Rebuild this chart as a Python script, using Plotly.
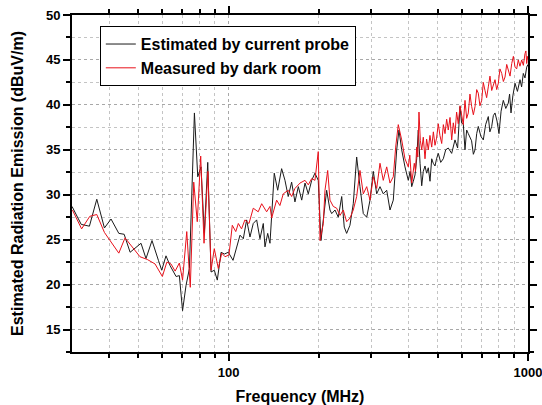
import plotly.graph_objects as go

# Estimated by current probe (black)
probe_freq = [30, 32.2, 34.3, 36.3, 38.5, 40.5, 43.0, 44.8, 46.9, 51.0, 53.0, 55.5, 58.3, 59.8, 61.8, 63.8,
              66.8, 68.5, 70.2, 72.1, 74.0, 76.9, 78.9, 80.9, 83.0, 85.2, 87.4, 89.6, 91.7, 94.4, 96.8, 99.8,
              103.5, 106.4, 109.2, 112.0, 114.9, 117.9, 120.9, 124.1, 127.3, 130.6, 132.3, 135.1, 137.5,
              142.1, 145.9, 150.4, 154.3, 158.2, 162.4, 166.6, 171.0, 175.5, 180.0, 184.6, 189.5, 194.3,
              199.3, 203.5, 208.7, 212.6, 218.1, 221.0, 226.7, 232.5, 238.7, 243.4, 247.9, 254.3, 260.9,
              267.8, 274.7, 281.8, 289.3, 296.7, 304.3, 312.4, 320.4, 328.6, 337.4, 346.0, 354.9, 364.3,
              370.8, 378.6, 388.3, 398.3, 404, 408.9, 414, 419.4, 425, 430.1, 436, 441.6, 447, 452.9,
              458.5, 464.5, 470.7, 476.9, 482.7, 489.1, 495, 501.7, 511, 521.3, 531, 541.7, 556, 570.4,
              582, 592.8, 600, 608.0, 616.0, 624, 631.8, 648, 657, 665.3, 674, 682.3, 696, 709.1, 722,
              736.9, 746, 756.5, 766, 775.9, 788, 800.0, 813, 827.0, 843, 859.5, 868, 877.5, 890, 905.0,
              922, 940.3, 952, 964.5, 977, 990.1, 1000]
probe_val = [28.7, 26.7, 26.5, 29.5, 26.3, 27.3, 25.7, 25.6, 23.6, 24.6, 22.9, 24.9, 22.7, 21.6, 23.2, 22.1,
             20.9, 21.0, 17.1, 19.9, 21.8, 39.1, 32.0, 33.1, 25.7, 33.6, 21.4, 21.6, 20.5, 23.6, 23.4, 23.6,
             22.7, 24.2, 25.5, 25.1, 27.2, 25.3, 26.8, 27.2, 25.1, 26.8, 24.2, 25.7, 24.6,
             32.4, 30.5, 32.9, 31.6, 29.8, 31.4, 29.2, 30.9, 29.4, 31.3, 30.1, 31.6, 32.4,
             31.6, 24.9, 28.3, 30.5, 28.3, 27.9, 28.3, 27.5, 29.8, 26.4, 25.7, 26.6, 29.0,
             34.2, 30.9, 27.9, 27.5, 29.4, 32.6, 30.1, 30.9, 30.1, 30.5, 28.3, 29.4, 35.0,
             37.2, 35.0, 33.1, 31.6, 32.6, 30.9, 31.5, 32.2, 34.0, 37.2, 33.5, 31.0, 32.6, 33.2,
             32.4, 33.0, 31.5, 34.0, 33.5, 33.2, 34.0, 34.6, 33.6, 34.0, 35.0, 35.2, 34.6, 36.1,
             35.2, 39.8, 38.0, 37.9, 35.0, 37.2, 36.8, 36.0, 34.5, 35.0, 36.8, 37.6, 36.5, 36.1, 37.8,
             38.7, 37.0, 37.6, 38.8, 39.1, 38.2, 36.8, 39.3, 40.5, 39.6, 40.2, 41.2, 39.1, 41.0, 42.4,
             41.5, 42.8, 42.0, 43.5, 43.0, 44.2, 44.5]

# Measured by dark room (red)
room_freq = [30.1, 32.3, 34.4, 36.3, 38.5, 40.7, 43.0, 45.1, 47.5, 50.6, 53.5, 56.8, 60.1, 62.2, 64.2, 66.3,
             68.5, 70.2, 72.5, 74.5, 76.5, 78.6, 80.7, 82.8, 85.3, 87.4, 89.6, 92.4, 94.9, 97.3, 100.3,
             102.9, 105.7, 107.8, 110.5, 113.4, 117.0, 120.9, 125.6, 129.0, 134.0, 137.5, 139.3, 144.7,
             148.4, 152.3, 158.2, 162.4, 166.6, 173.2, 180.0, 184.6, 189.5, 194.3, 199.3, 202.0, 207.2,
             209.9, 214.3, 218.1, 223.7, 229.6, 235.6, 241.6, 247.9, 254.3, 260.9, 267.8, 274.7, 281.8,
             289.3, 296.7, 304.3, 312.4, 320.4, 328.6, 337.4, 346.0, 354.9, 361.5, 368.8, 378.6, 388.3,
             398.3, 403, 408.9, 413, 417.1, 421, 424.9, 428.5, 432.4, 437, 441.6, 447, 452.9, 458.5,
             464.5, 470.5, 476.9, 483, 489.1, 495, 501.7, 508, 515.0, 521.5, 528.2, 535, 541.7, 549,
             556.1, 563, 570.4, 577.5, 585.0, 593, 600.6, 608, 616.0, 624, 631.8, 640, 648.6, 657,
             665.3, 674, 682.3, 691, 700.5, 709, 718.4, 727.5, 736.9, 746.5, 756.5, 766, 775.9, 786,
             795.8, 806, 817.0, 827.5, 838.0, 849, 859.5, 871, 882.3, 893.5, 905.0, 916.5, 928.0, 940,
             952.8, 965, 977.2, 984, 990.1, 995, 1000]
room_val = [28.3, 26.2, 27.6, 27.8, 25.8, 24.6, 23.5, 25.2, 24.2, 23.1, 22.8, 22.3, 20.9, 22.5, 22.3, 21.5,
            22.4, 20.5, 25.9, 19.7, 31.4, 27.0, 34.3, 24.6, 32.6, 21.6, 24.0, 21.8, 23.5, 23.1, 23.3,
            26.6, 25.9, 26.8, 26.2, 27.2, 26.8, 28.5, 28.1, 29.0, 28.1, 28.7, 27.4, 29.4,
            28.8, 30.1, 30.5, 29.8, 30.7, 31.3, 31.6, 31.1, 31.8, 31.6, 34.8, 24.9, 26.8,
            30.5, 32.7, 29.4, 28.7, 28.5, 27.7, 28.3, 27.0, 27.4, 28.3, 29.8, 32.7, 30.1,
            30.9, 29.4, 32.0, 30.7, 33.5, 31.6, 33.1, 31.3, 32.0, 35.3, 37.8, 36.1, 34.0,
            33.1, 34.4, 31.3, 32.4, 33.5, 32.6, 35.3, 34.2, 39.2, 36.0, 35.0, 36.4, 34.0, 36.2,
            35.0, 36.6, 35.3, 37.0, 35.5, 36.3, 37.9, 36.6, 35.7, 37.8, 36.8, 38.4, 37.2, 38.6,
            36.1, 38.0, 36.8, 39.2, 37.9, 39.9, 38.7, 37.8, 40.5, 38.5, 39.1, 41.2, 39.8, 38.9,
            39.8, 41.7, 41.3, 39.9, 40.5, 42.5, 41.6, 40.8, 42.0, 43.2, 41.6, 42.1, 42.8, 41.7,
            42.4, 44.0, 43.5, 42.6, 43.1, 44.5, 43.9, 43.2, 44.6, 45.4, 44.2, 44.0, 45.0, 44.3,
            45.0, 44.4, 45.7, 46.0, 44.6, 45.4, 45.0]

x_ticks = [100, 1000]
x_minor = [40, 50, 60, 70, 80, 90, 200, 300, 400, 500, 600, 700, 800, 900]

fig = go.Figure()
fig.add_trace(go.Scatter(x=probe_freq, y=probe_val, mode="lines", name="Estimated by current probe",
                         line=dict(color="#1a1a1a", width=1)))
fig.add_trace(go.Scatter(x=room_freq, y=room_val, mode="lines", name="Measured by dark room",
                         line=dict(color="#e8101a", width=1)))

FONT = "Liberation Sans, Arial"
axis_font = dict(family=FONT, size=13, color="black", weight="bold")
fig.update_layout(
    width=542, height=405,
    margin=dict(l=72, r=14, t=15, b=53),
    paper_bgcolor="white", plot_bgcolor="white",
    showlegend=True,
    legend=dict(x=0.061, y=0.967, xanchor="left", yanchor="top",
                bgcolor="white", bordercolor="black", borderwidth=1,
                font=dict(family=FONT, size=16, color="black", weight="bold"),
                tracegroupgap=0, itemwidth=30),
    xaxis=dict(
        type="log", range=[1.4771, 3.0], automargin=False,
        tickmode="array", tickvals=x_ticks, ticktext=[str(v) for v in x_ticks],
        ticklabeloverflow="allow",
        ticks="outside", ticklen=7, tickwidth=1.5, tickcolor="black",
        showline=True, linecolor="black", linewidth=2, mirror="allticks",
        showgrid=True, gridcolor="#a8a8a8", griddash="dot", gridwidth=1,
        minor=dict(tickmode="array", tickvals=x_minor, ticks="outside", ticklen=4,
                   tickcolor="black", tickwidth=1.5, showgrid=True, gridcolor="#c4c4c4",
                   griddash="dot", gridwidth=1),
        tickfont=axis_font, zeroline=False,
        title=dict(text="Frequency (MHz)", font=dict(family=FONT, size=16, color="black", weight="bold"),
                   standoff=12),
    ),
    yaxis=dict(
        range=[12.5, 50], tickmode="linear", tick0=0, dtick=5, automargin=False,
        ticklabeloverflow="allow",
        ticks="outside", ticklen=7, tickwidth=1.5, tickcolor="black",
        showline=True, linecolor="black", linewidth=2, mirror="allticks",
        showgrid=True, gridcolor="#a8a8a8", griddash="dot", gridwidth=1,
        minor=dict(dtick=2.5, ticks="outside", ticklen=4, tickcolor="black", tickwidth=1.5,
                   showgrid=True, gridcolor="#c4c4c4", griddash="dot", gridwidth=1),
        tickfont=axis_font, zeroline=False,
        title=dict(text="Estimated Radiation Emission (dBuV/m)",
                   font=dict(family=FONT, size=16, color="black", weight="bold"), standoff=18),
    ),
)

fig.write_html("out.html")
